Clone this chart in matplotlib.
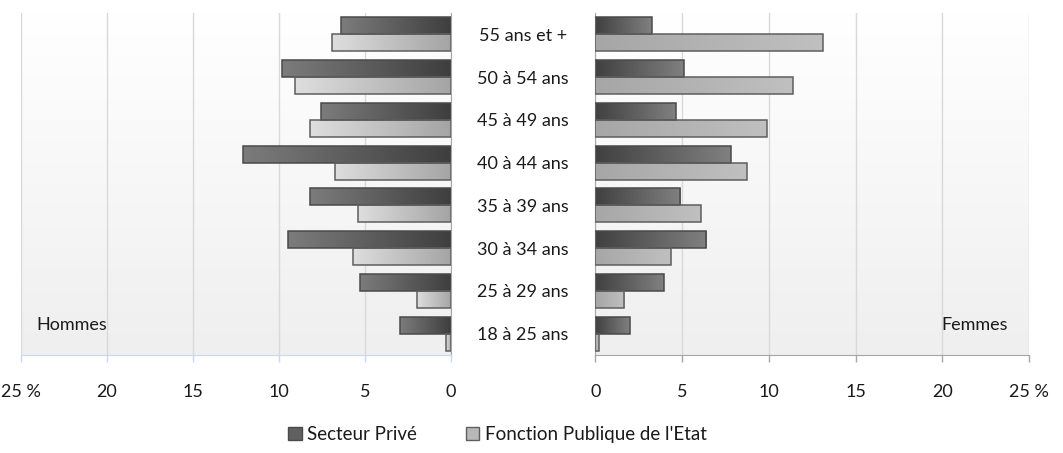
import numpy as np
import matplotlib
matplotlib.use("Agg")
import matplotlib.pyplot as plt
from matplotlib.colors import LinearSegmentedColormap
from matplotlib.patches import Patch

categories = ["18 à 25 ans", "25 à 29 ans", "30 à 34 ans", "35 à 39 ans",
              "40 à 44 ans", "45 à 49 ans", "50 à 54 ans", "55 ans et +"]
hommes_prive = [2.95, 5.3, 9.5, 8.2, 12.1, 7.55, 9.8, 6.4]
hommes_public = [0.27, 2.0, 5.7, 5.4, 6.75, 8.2, 9.1, 6.9]
femmes_prive = [2.0, 3.95, 6.4, 4.9, 7.8, 4.65, 5.1, 3.25]
femmes_public = [0.21, 1.68, 4.35, 6.1, 8.75, 9.9, 11.4, 13.1]
xticks = [0, 5, 10, 15, 20, 25]
xticklabels = ["0", "5", "10", "15", "20", "25 %"]
series_names = ["Secteur Privé", "Fonction Publique de l'Etat"]
panel_names = ["Hommes", "Femmes"]

plt.rcParams['font.family'] = ['Lato', 'DejaVu Sans']
FS = 13
TXT = '#1a1a1a'

fig = plt.figure(figsize=(10.63, 4.53), dpi=100)
bottom, top = 0.2163, 0.9713
axL = fig.add_axes([0.01976, bottom, 0.4243 - 0.01976, top - bottom])
axR = fig.add_axes([0.5600, bottom, 0.9680 - 0.5600, top - bottom])

y = np.arange(len(categories))
h = 0.4


def bg(ax):
    grad = np.linspace(0, 1, 256).reshape(-1, 1)
    cmap = LinearSegmentedColormap.from_list('bg', ['#efefef', '#ffffff'])
    ax.imshow(grad, extent=[0, 1, 0, 1], transform=ax.transAxes, cmap=cmap,
              aspect='auto', zorder=0, interpolation='bilinear', origin='lower')


def gradient_bars(ax, bars, c_inner, c_outer, edge):
    cmap = LinearSegmentedColormap.from_list('g', [c_inner, c_outer])
    grad = np.linspace(0, 1, 256).reshape(1, -1)
    for b in bars:
        y0 = b.get_y()
        w, hh = b.get_width(), b.get_height()
        im = ax.imshow(grad, extent=[0, w, y0, y0 + hh], cmap=cmap, aspect='auto',
                       zorder=2, interpolation='bilinear', origin='lower')
        im.set_clip_path(b)
        b.set_facecolor('none')
        b.set_edgecolor(edge)
        b.set_linewidth(1.1)
        b.set_zorder(3)


for ax in (axL, axR):
    bg(ax)
    ax.set_xlim(0, 25)
    ax.set_ylim(-0.5, len(categories) - 0.5)
    ax.set_xticks(xticks)
    ax.set_xticklabels(xticklabels, fontsize=FS, color=TXT)
    ax.grid(axis='x', color='#d9d9d9', linewidth=1.0, zorder=1)
    ax.set_axisbelow(True)
    ax.spines['top'].set_visible(False)
    ax.tick_params(axis='x', direction='out', length=5, width=1, pad=16)

# Left (Hommes)
bL1 = axL.barh(y + h / 2, hommes_prive, height=h)
bL2 = axL.barh(y - h / 2, hommes_public, height=h)
gradient_bars(axL, bL1, '#3e3e3e', '#7c7c7c', '#4a4a4a')
gradient_bars(axL, bL2, '#a4a4a4', '#dedede', '#5e5e5e')
axL.set_xlim(25, 0)
axL.set_ylim(-0.5, len(categories) - 0.5)
axL.set_yticks([])
axL.spines['left'].set_visible(False)
axL.spines['right'].set_color('#a6a6a6')
axL.spines['bottom'].set_color('#c6d9f1')
axL.tick_params(axis='x', color='#c6d9f1')
axL.text(24.1, 0.2, panel_names[0], fontsize=FS, color=TXT, ha='left', va='center', zorder=5)

# Right (Femmes)
bR1 = axR.barh(y + h / 2, femmes_prive, height=h)
bR2 = axR.barh(y - h / 2, femmes_public, height=h)
gradient_bars(axR, bR1, '#404040', '#808080', '#4a4a4a')
gradient_bars(axR, bR2, '#a6a6a6', '#c0c0c0', '#5e5e5e')
axR.set_xlim(0, 25)
axR.set_ylim(-0.5, len(categories) - 0.5)
axR.set_yticks(y)
axR.set_yticklabels(categories, fontsize=FS, color=TXT, ha='center')
axR.tick_params(axis='y', length=0, pad=52)
axR.spines['right'].set_visible(False)
axR.spines['left'].set_color('#a6a6a6')
axR.spines['bottom'].set_color('#a6a6a6')
axR.tick_params(axis='x', color='#a6a6a6')
axR.text(23.8, 0.2, panel_names[1], fontsize=FS, color=TXT, ha='right', va='center', zorder=5)

handles = [Patch(facecolor='#606060', edgecolor='#4a4a4a', label=series_names[0]),
           Patch(facecolor='#b8b8b8', edgecolor='#5e5e5e', label=series_names[1])]
fig.legend(handles=handles, loc='center', bbox_to_anchor=(0.468, 0.04), ncol=2,
           frameon=False, prop={'size': 13.5}, handlelength=0.7, handleheight=0.7,
           handletextpad=0.3, columnspacing=2.6, labelcolor=TXT)

fig.savefig('out.png', dpi=100)
